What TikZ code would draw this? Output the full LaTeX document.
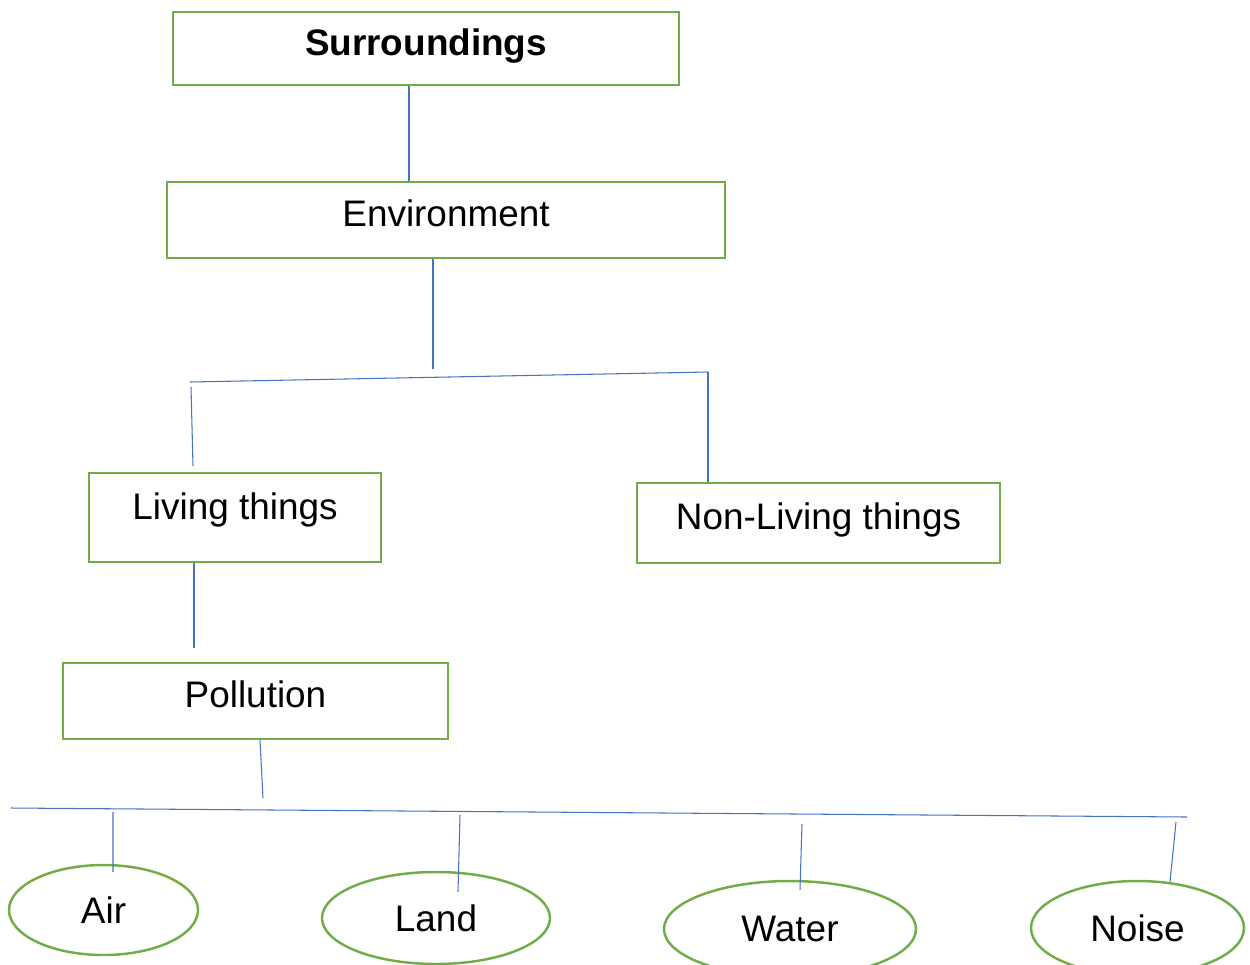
\documentclass[tikz,border=0pt]{standalone}
\usepackage{fontspec}
\setmainfont{Liberation Sans}
\usetikzlibrary{positioning,shapes.geometric}
\definecolor{boxgreen}{HTML}{70AD47}
\definecolor{lineblue}{HTML}{4472C4}
\tikzset{every picture/.style={line width=0.6pt}}
\tikzset{
  box/.style={draw=boxgreen, line width=1.4pt, rectangle, inner sep=0pt,
    font=\fontsize{21}{25}\selectfont, text height=1.0em, text depth=0.25em},
  oval/.style={draw=boxgreen, line width=1.4pt, ellipse, inner sep=0pt,
    font=\fontsize{21}{25}\selectfont},
  link/.style={draw=lineblue, line width=0.6pt}
}

\begin{document}
\begin{tikzpicture}
    \useasboundingbox (0,0) rectangle (25,-19.28);

    % Boxes
    \node[box, minimum width=10.12cm, minimum height=1.46cm, font=\fontsize{21}{25}\selectfont\bfseries, text height=1.05em] (surr) at (8.52,-0.97) {Surroundings};
    \node[box, minimum width=11.16cm, minimum height=1.52cm] (env) at (8.92,-4.40) {Environment};
    \node[box, minimum width=5.84cm, minimum height=1.78cm, text depth=0.8em] (liv) at (4.70,-10.35) {Living things};
    \node[box, minimum width=7.26cm, minimum height=1.60cm] (nonliv) at (16.37,-10.46) {Non-Living things};
    \node[box, minimum width=7.70cm, minimum height=1.52cm] (pol) at (5.11,-14.02) {Pollution};

    % Kinds of pollution
    \foreach \n/\t/\x/\y/\w/\h in {air/Air/2.07/-18.20/3.78/1.80,
                                   land/Land/8.72/-18.36/4.56/1.84,
                                   water/Water/15.80/-18.58/5.04/1.92,
                                   noise/Noise/22.75/-18.56/4.26/1.88} {
        \node[oval, minimum width=\w cm, minimum height=\h cm] (\n) at (\x,\y) {\t};
    }

    % Joints
    \coordinate (k1) at (8.18,0);
    \coordinate (envdrop) at (8.66,-7.38);
    \coordinate (barL) at (3.80,-7.64);
    \coordinate (barR) at (14.16,-7.44);
    \coordinate (livA) at (3.82,-7.74);
    \coordinate (livB) at (3.86,-9.32);
    \coordinate (livdrop) at (3.88,-12.96);
    \coordinate (polA) at (5.20,0);
    \coordinate (poldrop) at (5.26,-15.96);
    \coordinate (barL2) at (0.22,-16.16);
    \coordinate (barR2) at (23.74,-16.34);
    \coordinate (air top) at (2.26,-16.24);
    \coordinate (land top) at (9.20,-16.30);
    \coordinate (water top) at (16.04,-16.48);
    \coordinate (noise top) at (23.52,-16.44);

    % Connectors
    \draw[link] (surr.south -| k1) -- (env.north -| k1);
    \draw[link] (env.south -| envdrop) -- (envdrop);
    \draw[link] (barL) -- (barR);
    \draw[link] (livA) -- (livB);
    \draw[link] (barR) -- (barR |- nonliv.north);
    \draw[link] (liv.south -| livdrop) -- (livdrop);
    \draw[link] (pol.south -| polA) -- (poldrop);
    \draw[link] (barL2) -- (barR2);
    \foreach \n/\dx/\dy in {air/0.19/-0.16, land/0.44/-0.42, water/0.20/-0.20, noise/0.65/-0.04} {
        \draw[link] (\n\space top) -- ([shift={(\dx,\dy)}]\n.north);
    }
\end{tikzpicture}
\end{document}
